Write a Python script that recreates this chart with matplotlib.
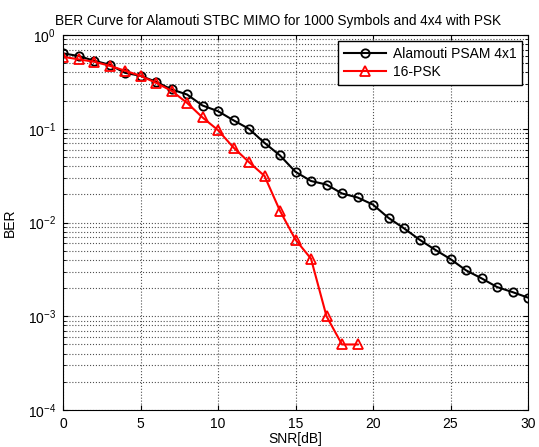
"""
BER curve for Alamouti STBC MIMO vs 16-PSK.
"""

import matplotlib.pyplot as plt

plt.rcParams["font.family"] = ["Liberation Sans", "DejaVu Sans"]

SNR_ALAMOUTI = list(range(0, 31))
BER_ALAMOUTI = [
    0.637, 0.597, 0.532, 0.482, 0.395, 0.367, 0.317, 0.263, 0.232, 0.177,
    0.154, 0.123, 0.0997, 0.0707, 0.0519, 0.0347, 0.0277, 0.0254, 0.0204,
    0.0185, 0.0155, 0.0112, 0.00867, 0.00656, 0.00513, 0.00407, 0.00309,
    0.00254, 0.00205, 0.00181, 0.00158,
]

SNR_PSK = list(range(0, 20))
BER_PSK = [
    0.586, 0.55, 0.519, 0.47, 0.416, 0.367, 0.309, 0.254, 0.189, 0.132,
    0.0966, 0.063, 0.044, 0.0314, 0.0133, 0.00656, 0.00411, 0.001,
    0.0005, 0.0005,
]


def create_ber_chart() -> None:
    fig = plt.figure(figsize=(5.39, 4.47), dpi=100)
    ax = fig.add_axes([63 / 539, 1 - 410 / 447, 465 / 539, 375 / 447])

    ax.semilogy(SNR_ALAMOUTI, BER_ALAMOUTI, color="black", marker="o",
                markerfacecolor="none", markersize=6, linewidth=1.5,
                markeredgewidth=1.3, label="Alamouti PSAM 4x1")
    ax.semilogy(SNR_PSK, BER_PSK, color="red", marker="^",
                markerfacecolor="none", markersize=7, linewidth=1.5,
                markeredgewidth=1.3, label="16-PSK")

    ax.set_xlim(0, 30)
    ax.set_ylim(1e-4, 1)
    ax.set_xticks(range(0, 31, 5))

    ax.grid(True, which="major", linestyle=":", color="#505050", linewidth=0.8)
    ax.grid(True, which="minor", axis="y", linestyle=":", color="#505050",
            linewidth=0.8)
    ax.tick_params(which="both", direction="in", top=True, right=True,
                   labelsize=10, pad=5)

    # title sits a little left of centre in the original
    ax.set_title("BER Curve for Alamouti STBC MIMO for 1000 Symbols and 4x4 with PSK",
                 fontsize=9.8, pad=7, x=0.462)
    ax.set_xlabel("SNR[dB]", fontsize=10, labelpad=1)
    ax.set_ylabel("BER", fontsize=10, labelpad=8)

    leg = ax.legend(loc="upper right", fontsize=10, fancybox=False,
                    framealpha=1, edgecolor="black", borderaxespad=0.45,
                    handlelength=3.0, handletextpad=0.5, borderpad=0.4,
                    labelspacing=0.3)
    leg.get_frame().set_linewidth(1.0)

    fig.savefig("out.png", dpi=100)


if __name__ == "__main__":
    create_ber_chart()
